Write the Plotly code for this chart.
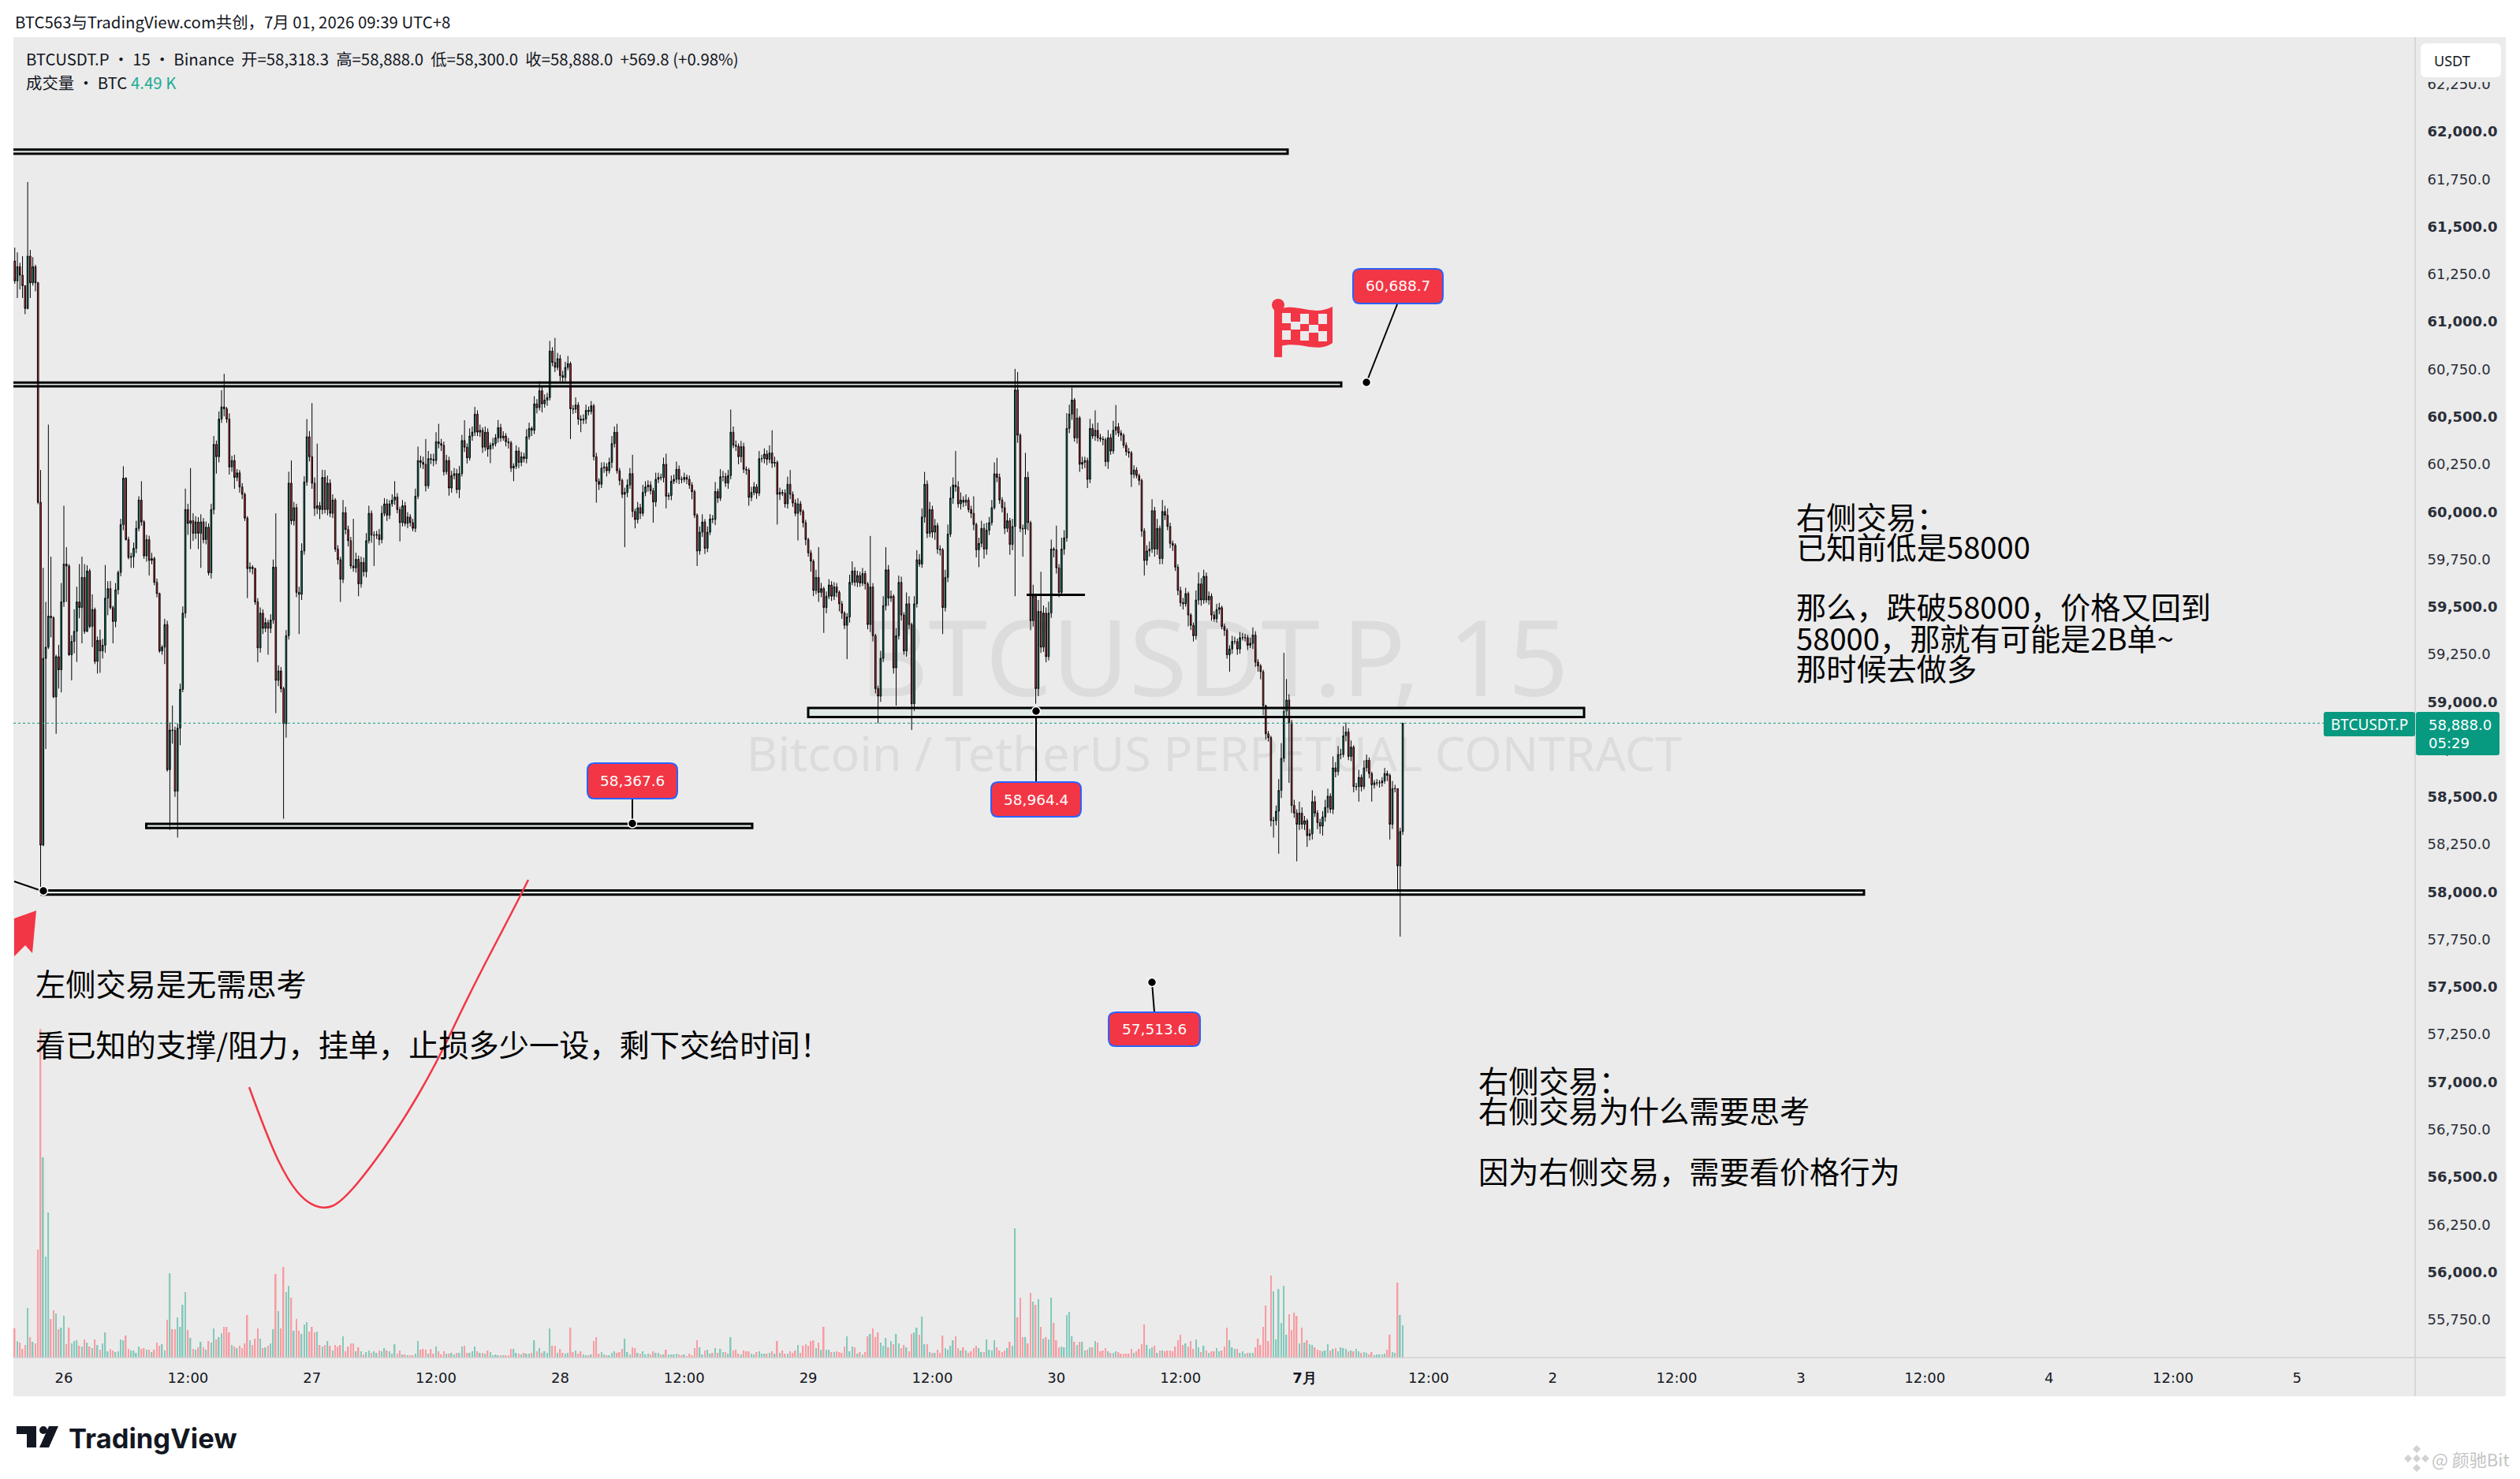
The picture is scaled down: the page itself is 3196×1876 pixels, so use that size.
import pandas as pd
import plotly.graph_objects as go

first_open = 61320
closes = [
61215,61290,61245,61190,61070,61345,61205,61290,61205,60050,
58246,59229,59288,59451,59443,59026,59238,59169,59526,59725,
59715,59248,59318,59371,59526,59496,59655,59371,59689,59397,
59486,59213,59324,59268,59298,59546,59596,59496,59423,59590,
59681,59933,60177,59854,59760,59764,59808,59913,60062,59947,
59768,59854,59744,59754,59629,59570,59268,59288,59407,58643,
58852,58850,58530,58862,59066,59467,60012,59939,59953,59887,
59947,59887,59947,59854,59919,59679,60012,60355,60290,60488,
60552,60542,60488,60236,60270,60181,60205,60131,60092,59967,
59701,59709,59701,59526,59284,59467,59387,59417,59387,59431,
59709,59113,59163,59070,58885,59348,60151,59953,60022,59576,
59566,59794,60157,60395,60290,60151,60018,60032,60012,60181,
60012,60151,59992,60062,59804,59748,59645,59996,59907,59848,
59715,59705,59750,59621,59734,59685,59848,59992,59877,59877,
59880,59854,59992,60042,59982,60042,60062,60078,60012,59943,
60032,59939,59973,59943,59913,60082,60270,60260,60250,60137,
60280,60276,60270,60369,60359,60350,60211,60270,60125,60191,
60201,60117,60201,60375,60340,60284,60399,60419,60514,60419,
60429,60340,60419,60330,60350,60359,60389,60443,60389,60399,
60369,60363,60230,60240,60320,60260,60290,60280,60395,60439,
60429,60568,60548,60637,60568,60588,60601,60846,60786,60760,
60806,60717,60707,60760,60780,60542,60540,60562,60488,60482,
60488,60534,60528,60558,60290,60161,60145,60230,60236,60216,
60260,60359,60419,60216,60165,60092,60102,60141,60201,60002,
59959,60022,59992,60102,60131,60141,60111,60052,60171,60181,
60180,60250,60082,60086,60161,60171,60224,60171,60170,60181,
60171,60141,60106,59982,59794,59893,59947,59808,59893,59963,
59960,60107,60072,60185,60185,60151,60191,60419,60350,60345,
60290,60343,60224,60220,60076,60102,60131,60098,60280,60280,
60304,60276,60310,60256,60260,60092,60102,60098,60042,60145,
60092,60046,59992,60042,60002,59943,59854,59784,59740,59586,
59655,59576,59596,59496,59556,59615,59556,59605,59576,59516,
59467,59403,59447,59629,59689,59629,59665,59625,59675,59621,
59407,59605,59348,59070,59030,59229,59506,59695,59546,59556,
59179,59348,59629,59457,59268,59516,59407,58990,59516,59748,
59725,59973,60145,59887,60012,59893,59927,59804,59800,59496,
59655,59883,60072,60141,60131,60042,60062,60050,60062,60012,
59992,59933,59800,59834,59913,59804,59903,59943,60022,60200,
60181,60062,60022,59913,59953,59828,59923,60641,60403,59913,
59910,60181,59943,59427,59556,59070,59476,59288,59467,59238,
59467,59804,59800,59705,59576,59804,59863,60439,60514,60588,
60389,60494,60250,60260,60270,60171,60439,60399,60429,60390,
60383,60380,60264,60390,60320,60429,60447,60415,60403,60350,
60316,60310,60197,60220,60191,60165,59899,59744,59794,59804,
60006,59804,59913,59754,60002,59982,59923,59834,59824,59709,
59586,59522,59516,59570,59457,59403,59348,59536,59621,59536,
59661,59536,59556,59457,59437,59486,59496,59397,59377,59248,
59278,59318,59318,59278,59338,59338,59338,59298,59308,59352,
59209,59189,59159,58980,58832,58812,58375,58375,58425,58534,
58703,58951,59010,58891,58455,58415,58356,58415,58356,58375,
58296,58306,58475,58415,58365,58346,58395,58445,58504,58435,
58653,58633,58723,58723,58822,58842,58713,58762,58554,58554,
58603,58554,58653,58693,58623,58564,58574,58574,58574,58584,
58623,58613,58356,58544,58544,58137,58318,58888]
upper_wick = [
70,75,20,100,0,390,33,50,10,5,
170,476,238,1008,313,7,10,62,99,307,
89,10,32,116,80,199,109,70,30,11,
80,10,20,56,34,174,39,40,10,35,
10,30,63,5,15,20,30,40,20,99,
10,25,20,30,10,20,5,10,30,20,
40,129,20,25,30,35,110,30,277,40,
30,25,40,20,30,20,30,44,20,40,
88,174,10,30,25,30,20,15,20,10,
10,25,10,5,20,30,20,25,15,30,
40,283,30,20,10,30,60,119,30,20,
30,40,30,93,30,282,30,327,20,40,
39,40,20,30,10,20,15,66,30,20,
20,248,35,20,30,25,40,40,15,20,
20,30,40,30,25,20,30,83,20,15,
30,20,25,15,20,40,73,25,30,133,
40,25,30,50,94,25,20,30,20,25,
30,25,40,30,107,20,40,30,38,20,
30,15,30,20,15,30,20,40,20,25,
15,20,10,15,30,20,25,20,40,30,
10,40,25,50,20,30,25,53,20,129,
30,20,25,30,40,10,20,40,15,20,
25,30,20,25,10,20,15,30,25,20,
25,40,30,44,15,10,25,30,30,99,
15,30,20,40,30,25,20,15,35,25,
20,35,56,15,30,25,40,20,15,25,
15,20,15,10,10,30,40,15,30,25,
20,50,15,40,30,20,30,119,30,25,
15,30,20,15,10,30,25,15,40,20,
30,20,40,119,30,10,25,15,20,40,
75,15,20,30,15,10,15,10,15,10,
40,159,30,10,25,30,20,25,20,10,
15,10,20,40,50,20,25,20,30,15,
10,268,20,10,15,40,50,119,25,30,
10,40,36,30,15,60,40,10,40,50,
30,45,65,20,40,20,35,15,20,10,
40,50,60,40,179,30,40,20,30,15,
20,90,10,30,40,25,40,30,40,60,
84,20,15,30,40,15,40,111,95,10,
20,129,30,10,60,10,60,209,40,30,
60,50,10,127,20,60,40,80,50,65,
10,50,10,30,20,15,50,25,105,40,
20,15,10,40,20,50,115,20,15,10,
15,20,10,25,15,10,10,15,30,40,
60,20,50,15,60,30,36,20,15,10,
15,20,25,30,10,10,15,50,60,30,
34,20,25,15,20,30,25,10,15,10,
20,30,25,15,30,25,20,15,30,40,
20,15,10,10,5,15,10,20,30,60,
80,307,110,30,15,30,20,60,30,25,
10,25,60,30,15,20,30,40,40,15,
60,30,45,30,50,50,20,35,10,20,
40,15,40,30,15,10,15,20,15,20,
30,15,10,40,20,0,20,0]
lower_wick = [
15,90,75,65,30,5,80,15,45,10,
238,5,477,10,103,6,194,99,119,26,
189,6,135,63,161,56,188,13,4,10,
109,14,64,115,40,40,90,10,115,30,
25,20,30,5,10,55,59,25,15,20,
15,30,79,20,15,20,10,20,89,10,
317,70,30,244,90,15,25,60,135,40,
30,83,182,20,25,14,30,25,89,30,
20,40,20,40,25,60,20,30,25,15,
155,20,30,15,75,25,30,20,139,25,
20,172,30,20,500,73,20,20,25,25,
209,30,20,20,25,30,40,30,50,25,
20,30,20,25,15,25,119,20,25,30,
15,20,25,65,20,25,30,15,40,162,
20,30,20,15,30,20,15,25,20,99,
20,15,25,20,15,20,15,30,25,30,
15,25,30,20,25,30,20,15,40,25,
20,20,45,15,25,30,15,25,20,20,
25,30,20,40,74,20,15,25,20,15,
25,30,20,69,15,30,20,20,25,15,
30,20,30,15,45,20,30,15,20,25,
15,30,25,20,15,159,25,20,30,63,
20,25,20,15,20,113,30,20,25,30,
15,30,20,15,25,20,278,25,20,30,
46,20,30,15,20,25,20,109,25,20,
15,25,64,20,25,15,20,25,20,15,
25,20,40,15,79,20,25,30,20,15,
20,30,25,15,25,20,30,20,15,25,
40,30,20,25,44,20,15,30,15,20,
25,30,20,25,20,159,30,15,20,25,
25,20,15,143,20,25,30,20,55,30,
20,50,25,133,30,15,25,20,25,40,
30,20,178,30,15,20,25,20,15,30,
25,40,30,25,143,30,20,25,40,20,
30,199,20,30,20,30,25,138,39,20,
15,20,30,25,20,30,40,25,30,139,
20,25,15,30,25,20,30,25,20,15,
25,30,40,91,20,50,30,25,15,10,
25,20,25,30,20,54,30,367,40,20,
146,30,40,50,30,80,40,30,25,30,
20,25,40,30,25,15,30,20,25,30,
20,30,40,25,30,46,20,15,25,20,
15,30,25,38,20,15,25,20,30,15,
20,25,66,20,15,25,30,79,25,30,
20,40,30,30,29,25,20,25,30,20,
25,20,30,15,60,25,30,20,25,30,
20,15,25,30,15,20,25,15,30,20,
89,25,15,30,25,15,20,25,15,30,
25,30,40,50,30,20,30,89,25,224,
40,20,30,317,40,25,195,30,25,30,
59,25,30,20,35,40,50,25,30,20,
25,30,20,25,15,30,20,25,30,20,
79,25,15,20,25,89,20,15,25,20,
15,30,80,25,20,137,372,18]
# volume, in units of 36.5 BTC
volume_units = [
112,62,57,33,48,189,78,60,54,411,
1251,762,384,552,147,180,168,108,114,159,
51,114,54,63,66,45,42,69,57,42,
36,69,48,30,54,96,24,33,27,21,
24,69,66,84,33,27,27,18,42,33,
36,30,30,21,30,57,45,51,27,144,
321,108,108,153,117,201,249,105,75,33,
30,39,60,39,30,63,57,111,69,78,
93,117,117,96,48,42,36,45,36,54,
162,66,48,72,111,72,36,39,45,54,
108,318,177,111,345,249,273,228,102,147,
102,90,126,135,99,117,96,99,48,42,
48,63,45,27,48,42,48,81,24,42,
54,54,24,39,24,12,21,27,18,24,
18,27,24,36,27,24,15,51,15,27,
12,12,9,9,9,15,63,30,33,30,
15,33,15,42,24,12,24,15,15,18,
12,18,18,42,45,18,18,24,42,24,
18,18,15,27,21,9,12,9,9,9,
9,9,33,33,18,15,12,18,15,15,
18,66,24,36,18,24,18,111,45,45,
18,33,18,15,18,114,21,27,15,24,
12,9,9,12,63,78,15,21,12,9,
9,18,24,18,21,33,72,21,12,39,
36,18,15,24,12,15,12,24,18,18,
12,12,30,12,12,12,15,12,9,12,
6,15,9,36,66,39,12,27,30,15,
18,36,18,33,21,21,15,78,27,30,
15,12,27,24,24,15,12,21,24,15,
15,15,18,24,15,63,18,27,15,15,
24,18,27,48,18,45,51,45,63,66,
36,57,30,117,30,30,21,21,24,21,
18,42,81,24,42,39,15,21,12,21,
81,90,111,78,96,57,45,75,39,63,
51,90,54,36,48,39,24,90,96,114,
87,156,51,51,21,18,18,30,18,84,
36,30,45,66,81,36,27,39,27,18,
24,36,45,36,21,21,69,30,27,66,
39,27,21,27,36,60,45,492,153,228,
78,78,54,246,213,201,222,117,72,78,
69,228,132,66,39,42,39,162,174,81,
60,48,60,60,27,30,39,39,63,57,
24,27,36,24,18,18,24,21,15,15,
15,15,33,18,24,33,51,126,48,33,
39,45,18,27,27,24,27,27,24,42,
66,87,48,54,42,63,33,69,39,21,
45,27,18,24,24,36,24,27,42,114,
66,39,33,33,18,24,15,18,18,18,
39,72,48,117,198,63,312,252,69,261,
132,273,87,165,105,171,159,54,114,57,
66,51,48,39,30,27,24,27,51,27,
33,36,24,39,36,33,24,27,24,33,
24,18,21,18,12,21,9,12,12,12,
15,30,87,21,18,285,162,123]
price_ticks = [62250 - 250 * k for k in range(27)]
time_tick_labels = ["26","12:00","27","12:00","28","12:00","29","12:00","30","12:00",
                    "<b>7月</b>","12:00","2","12:00","3","12:00","4","12:00","5"]
last_price = 58888.0

N = len(closes)
assert len(upper_wick) == N and len(lower_wick) == N and len(volume_units) == N, (N, len(upper_wick), len(lower_wick), len(volume_units))

W, H = 3196, 1876
PX = lambda x: x / W
PY = lambda y: 1 - y / H
DAY_PX = 314.7
T0 = pd.Timestamp("2026-06-26 00:00")
def D(px):
    return (T0 + pd.Timedelta(days=(px - 81) / DAY_PX)).strftime("%Y-%m-%d %H:%M:%S")

times = pd.date_range("2026-06-25 19:15", periods=N, freq="15min")
opens = [first_open] + closes[:-1]
highs = [max(o, c) + u for o, c, u in zip(opens, closes, upper_wick)]
lows = [min(o, c) - l for o, c, l in zip(opens, closes, lower_wick)]
vol_colors = ["#84c9bb" if c >= o else "#f79da3" for o, c in zip(opens, closes)]
volumes = [v * 36.5 for v in volume_units]

TEAL, RED, INK = "#089981", "#f23645", "#131722"
fig = go.Figure()
fig.add_trace(go.Bar(x=times, y=volumes, yaxis="y2", marker=dict(color=vol_colors, line=dict(width=0)),
                     width=450000, showlegend=False, hoverinfo="skip"))
fig.add_trace(go.Candlestick(x=times, open=opens, high=highs, low=lows, close=closes, showlegend=False,
                             whiskerwidth=0,
                             increasing=dict(line=dict(color="#000000", width=1), fillcolor=TEAL),
                             decreasing=dict(line=dict(color="#000000", width=1), fillcolor=RED)))

shapes, notes = [], []
def rrect(x0, y0, x1, y1, r, **kw):
    p = (f"M{PX(x0+r)},{PY(y0)} L{PX(x1-r)},{PY(y0)} Q{PX(x1)},{PY(y0)} {PX(x1)},{PY(y0+r)} "
         f"L{PX(x1)},{PY(y1-r)} Q{PX(x1)},{PY(y1)} {PX(x1-r)},{PY(y1)} L{PX(x0+r)},{PY(y1)} "
         f"Q{PX(x0)},{PY(y1)} {PX(x0)},{PY(y1-r)} L{PX(x0)},{PY(y0+r)} Q{PX(x0)},{PY(y0)} {PX(x0+r)},{PY(y0)} Z")
    shapes.append(dict(type="path", path=p, xref="paper", yref="paper", **kw))
def poly(pts, close=True, **kw):
    p = "M" + " L".join(f"{PX(x)},{PY(y)}" for x, y in pts) + (" Z" if close else "")
    shapes.append(dict(type="path", path=p, xref="paper", yref="paper", **kw))
def seg(x0, y0, x1, y1, color="#000000", width=2, **kw):
    shapes.append(dict(type="line", xref="paper", yref="paper", x0=PX(x0), x1=PX(x1), y0=PY(y0), y1=PY(y1),
                       line=dict(color=color, width=width), **kw))
def dot(x, y, r=5.5):
    shapes.append(dict(type="circle", xref="paper", yref="paper", x0=PX(x-r), x1=PX(x+r), y0=PY(y+r), y1=PY(y-r),
                       fillcolor="#000000", line=dict(color="#ffffff", width=1.5)))
def text(x, y, s, size=38.2, color="#000000", family="Noto Sans CJK SC", anchor="left"):
    notes.append(dict(xref="paper", yref="paper", x=PX(x), y=PY(y), text=s, showarrow=False, xanchor=anchor,
                      yanchor="middle", align="left", borderpad=0, font=dict(size=size, color=color, family=family)))

# panel and watermarks, under the candles
rrect(17, 47, 3178, 1771, 0.01, fillcolor="#ebebeb", line=dict(width=0), layer="below")
shapes.append(dict(type="rect", xref="paper", yref="paper", x0=PX(540), x1=PX(2540), y0=PY(760), y1=PY(920),
                   fillcolor="rgba(0,0,0,0)", line=dict(width=0), layer="below",
                   label=dict(text="BTCUSDT.P, 15", textposition="middle center",
                              font=dict(size=134, color="#dcdcdc", family="Noto Sans"))))
shapes.append(dict(type="rect", xref="paper", yref="paper", x0=PX(540), x1=PX(2540), y0=PY(920), y1=PY(996),
                   fillcolor="rgba(0,0,0,0)", line=dict(width=0), layer="below",
                   label=dict(text="Bitcoin / TetherUS PERPETUAL CONTRACT", textposition="middle center",
                              font=dict(size=61, color="#dcdcdc", family="Noto Sans"))))

# axis borders and last-price line
seg(3063, 47, 3063, 1771, "#d1d1d1", 1.5)
seg(17, 1722, 3178, 1722, "#d1d1d1", 1.5)
shapes.append(dict(type="line", xref="x", yref="y", x0=D(17), x1=D(2947), y0=last_price, y1=last_price,
                   line=dict(color=TEAL, width=1, dash="dot")))

# drawn rectangles and lines (prices on the chart's scale)
levels = [(-40, 1633, 61906, 61884), (-40, 1701, 60680, 60660), (185.5, 954, 58358, 58336),
          (1025, 2009, 58968, 58920), (53, 2364, 58008, 57986)]
for xa, xb, pa, pb in levels:
    shapes.append(dict(type="rect", xref="x", yref="y", x0=D(xa), x1=D(xb), y0=pa, y1=pb,
                       fillcolor="rgba(178,223,219,0.2)", line=dict(color="#000000", width=3)))
shapes.append(dict(type="line", xref="x", yref="y", x0=D(1302), x1=D(1376), y0=59563, y1=59563,
                   line=dict(color="#000000", width=3)))
seg(18, 1118, 53, 1130, width=2)

# price callouts
callouts = [("60,688.7", 1716, 341, 1830, 385, 1772, 386, 1733, 485),
            ("58,367.6", 745, 968, 859, 1013, 802, 1013, 802, 1044.5),
            ("58,964.4", 1257, 992, 1371, 1036, 1314, 992, 1314, 902),
            ("57,513.6", 1406, 1284, 1522, 1327, 1464, 1284, 1461, 1246)]
for s, x0, y0, x1, y1, lx, ly, dx, dy in callouts:
    seg(lx, ly, dx, dy, width=2)
    rrect(x0, y0, x1, y1, 9, fillcolor=RED, line=dict(color="#2962ff", width=2))
    dot(dx, dy)
    text((x0 + x1) / 2, (y0 + y1) / 2, s, size=18.5, color="#ffffff", family="DejaVu Sans", anchor="center")
dot(55, 1130)

# flags
poly([(18, 1165), (46, 1155), (41, 1209), (32, 1199), (18, 1213)], fillcolor=RED, line=dict(width=0))
seg(1621, 390, 1621, 453, RED, 10)
shapes.append(dict(type="circle", xref="paper", yref="paper", x0=PX(1613), x1=PX(1629), y0=PY(395), y1=PY(379),
                   fillcolor=RED, line=dict(width=0)))
wave = (f"M{PX(1624)},{PY(392)} C{PX(1645)},{PY(384)} {PX(1665)},{PY(402)} {PX(1690)},{PY(389)} "
        f"L{PX(1690)},{PY(435)} C{PX(1670)},{PY(449)} {PX(1650)},{PY(432)} {PX(1624)},{PY(439)} Z")
shapes.append(dict(type="path", path=wave, xref="paper", yref="paper", fillcolor=RED, line=dict(width=0)))
for xa, ya, xb, yb in [(1626,397,1637,410),(1649,398,1660,411),(1672,398,1683,411),(1637,408,1649,418),
                       (1660,412,1672,422),(1626,419,1637,431),(1649,420,1660,432),(1672,420,1683,433)]:
    poly([(xa, ya), (xb, ya), (xb, yb), (xa, yb)], fillcolor="#ebebeb", line=dict(width=0))

# red hand-drawn curve
curve = [(316,1379),(340,1445),(365,1497),(388,1525),(412,1534),(432,1525),(463,1490),(508,1427),
         (553,1350),(597,1257),(653,1150),(670,1116)]
cp = f"M{PX(curve[0][0])},{PY(curve[0][1])} "
for a, b in zip(curve[1:-1], curve[2:]):
    cp += f"Q{PX(a[0])},{PY(a[1])} {PX((a[0]+b[0])/2)},{PY((a[1]+b[1])/2)} "
cp += f"L{PX(curve[-1][0])},{PY(curve[-1][1])}"
shapes.append(dict(type="path", path=cp, xref="paper", yref="paper", line=dict(color=RED, width=2.5)))

# tags on the price scale
poly([(3065, 96), (3178, 96), (3178, 104), (3065, 104)], fillcolor="#ebebeb", line=dict(width=0))
rrect(3070, 55, 3172, 98, 7, fillcolor="#ffffff", line=dict(width=0))
text(3086, 77, "USDT", size=18, color=INK, family="Noto Sans")
rrect(2947, 903, 3063, 934, 3, fillcolor=TEAL, line=dict(width=0))
rrect(3064, 903, 3170, 958, 3, fillcolor=TEAL, line=dict(width=0))
text(2955, 919, "BTCUSDT.P", size=19, color="#ffffff", family="Noto Sans")
text(3079, 919, "58,888.0", size=18, color="#ffffff", family="DejaVu Sans")
text(3079, 942, "05:29", size=18, color="#ffffff", family="DejaVu Sans")

# header, legend
text(18, 27, "BTC563与TradingView.com共创，7月 01, 2026 09:39 UTC+8", size=20.4, color=INK)
text(32, 74, "BTCUSDT.P · 15 · Binance  开=58,318.3  高=58,888.0  低=58,300.0  收=58,888.0  +569.8 (+0.98%)",
     size=20.4, color=INK)
text(32, 104, "成交量 · BTC", size=20.4, color=INK)
text(165, 104, "4.49 K", size=20.4, color="#22ab94")

# commentary
text(44, 1246, "左侧交易是无需思考")
text(44, 1323, "看已知的支撑/阻力，挂单，止损多少一设，剩下交给时间！")
for y, s in [(654, "右侧交易："), (692, "已知前低是58000"), (769, "那么，跌破58000，价格又回到"),
             (808, "58000，那就有可能是2B单~"), (846, "那时候去做多")]:
    text(2277, y, s)
for y, s in [(1369, "右侧交易："), (1407, "右侧交易为什么需要思考"), (1484, "因为右侧交易，需要看价格行为")]:
    text(1874, y, s)

# TradingView mark
poly([(21,1809),(46,1809),(46,1836),(34,1836),(34,1819),(21,1819)], fillcolor="#131722", line=dict(width=0))
shapes.append(dict(type="circle", xref="paper", yref="paper", x0=PX(50), x1=PX(60), y0=PY(1819), y1=PY(1809),
                   fillcolor="#131722", line=dict(width=0)))
poly([(62,1809),(74,1809),(62,1836),(50,1836)], fillcolor="#131722", line=dict(width=0))
text(86, 1824, "<b>TradingView</b>", size=34.5, color="#131722", family="Inter")

# Binance-style credit
for cx, cy, r in [(3065,1838,5),(3054,1850,5),(3076,1850,5),(3065,1850,5),(3065,1862,5)]:
    poly([(cx, cy-r),(cx+r, cy),(cx, cy+r),(cx-r, cy)], fillcolor="#d2d2d2", line=dict(width=0))
text(3083, 1850, "@ 颜驰Bit", size=22, color="#c4c4c4")

fig.update_layout(
    width=W, height=H, margin=dict(l=0, r=0, t=0, b=0), autosize=False,
    paper_bgcolor="#ffffff", plot_bgcolor="rgba(0,0,0,0)", barmode="overlay", hovermode=False,
    shapes=shapes, annotations=notes, showlegend=False,
    xaxis=dict(domain=[PX(17), PX(3063)], range=[D(17), D(3063)], type="date", rangeslider=dict(visible=False),
               tickmode="array",
               tickvals=[T0 + pd.Timedelta(hours=12 * k) for k in range(len(time_tick_labels))],
               ticktext=time_tick_labels, ticks="outside", ticklen=9, tickcolor="rgba(0,0,0,0)",
               showgrid=False, zeroline=False, showline=False, anchor="y",
               tickfont=dict(size=18, color=INK, family="DejaVu Sans")),
    yaxis=dict(domain=[PY(1722), PY(47)], range=[55550, 62498], side="right", tickmode="array",
               tickvals=price_ticks,
               ticktext=[(f"<b>{v:,.1f}</b>" if v % 500 == 0 else f"{v:,.1f}") for v in price_ticks],
               ticks="outside", ticklen=11, tickcolor="rgba(0,0,0,0)", showgrid=False, zeroline=False,
               showline=False, anchor="x", tickfont=dict(size=18, color="#2a2e39", family="DejaVu Sans")),
    yaxis2=dict(domain=[PY(1722), PY(47)], range=[0, 5025 * 36.5], overlaying="y", visible=False, anchor="x"),
)
fig.write_html("out.html", config=dict(displayModeBar=False), post_script="document.body.style.margin='0';")
